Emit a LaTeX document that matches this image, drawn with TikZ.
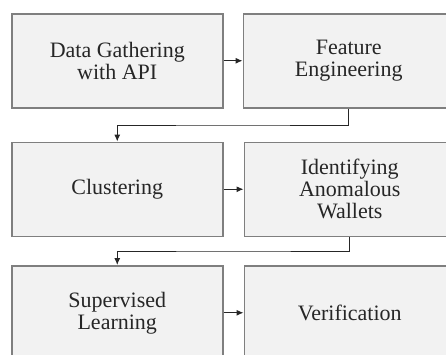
\documentclass[tikz,border=0pt]{standalone}
\usepackage{fontspec}
\setmainfont{Liberation Serif}
\usepackage{xcolor}
\usepackage{tikz}
\usetikzlibrary{arrows.meta,positioning,calc}
\definecolor{boxfill}{HTML}{F2F2F2}
\definecolor{boxline}{HTML}{7F7F7F}
\definecolor{txtgray}{HTML}{262626}

\begin{document}
\begin{tikzpicture}[
  stage/.style={draw=boxline, line width=1.5pt, fill=boxfill, minimum width=211pt, minimum height=94pt, align=center, text=txtgray, font=\fontsize{22pt}{22pt}\selectfont, inner sep=0pt},
  arr/.style={-{Latex[length=7pt,width=6pt]}, line width=1pt, black!85}
]
  \useasboundingbox (0pt,0pt) rectangle (446pt,-354pt);
  \node[stage, anchor=north west] (gather) at (11pt,-13pt) {Data Gathering\\with API};
  \node[stage, right=19pt of gather] (feat) {Feature\\Engineering};
  \node[stage, below=33pt of gather] (clust) {Clustering};
  \node[stage, below=33pt of feat, xshift=1pt] (anom) {Identifying\\Anomalous\\Wallets};
  \node[stage, below=28pt of clust] (superv) {Supervised\\Learning};
  \node[stage, below=28pt of anom] (verif) {Verification};

  \draw[arr] (gather) -- (feat);
  \draw[arr] (feat.south) |- ($(feat.south)!.5!(clust.north)$) -| (clust.north);
  \draw[arr] (clust) -- (anom);
  \draw[arr] (anom.south) |- ($(anom.south)!.5!(superv.north)$) -| (superv.north);
  \draw[arr] (superv) -- (verif);
\end{tikzpicture}
\end{document}
